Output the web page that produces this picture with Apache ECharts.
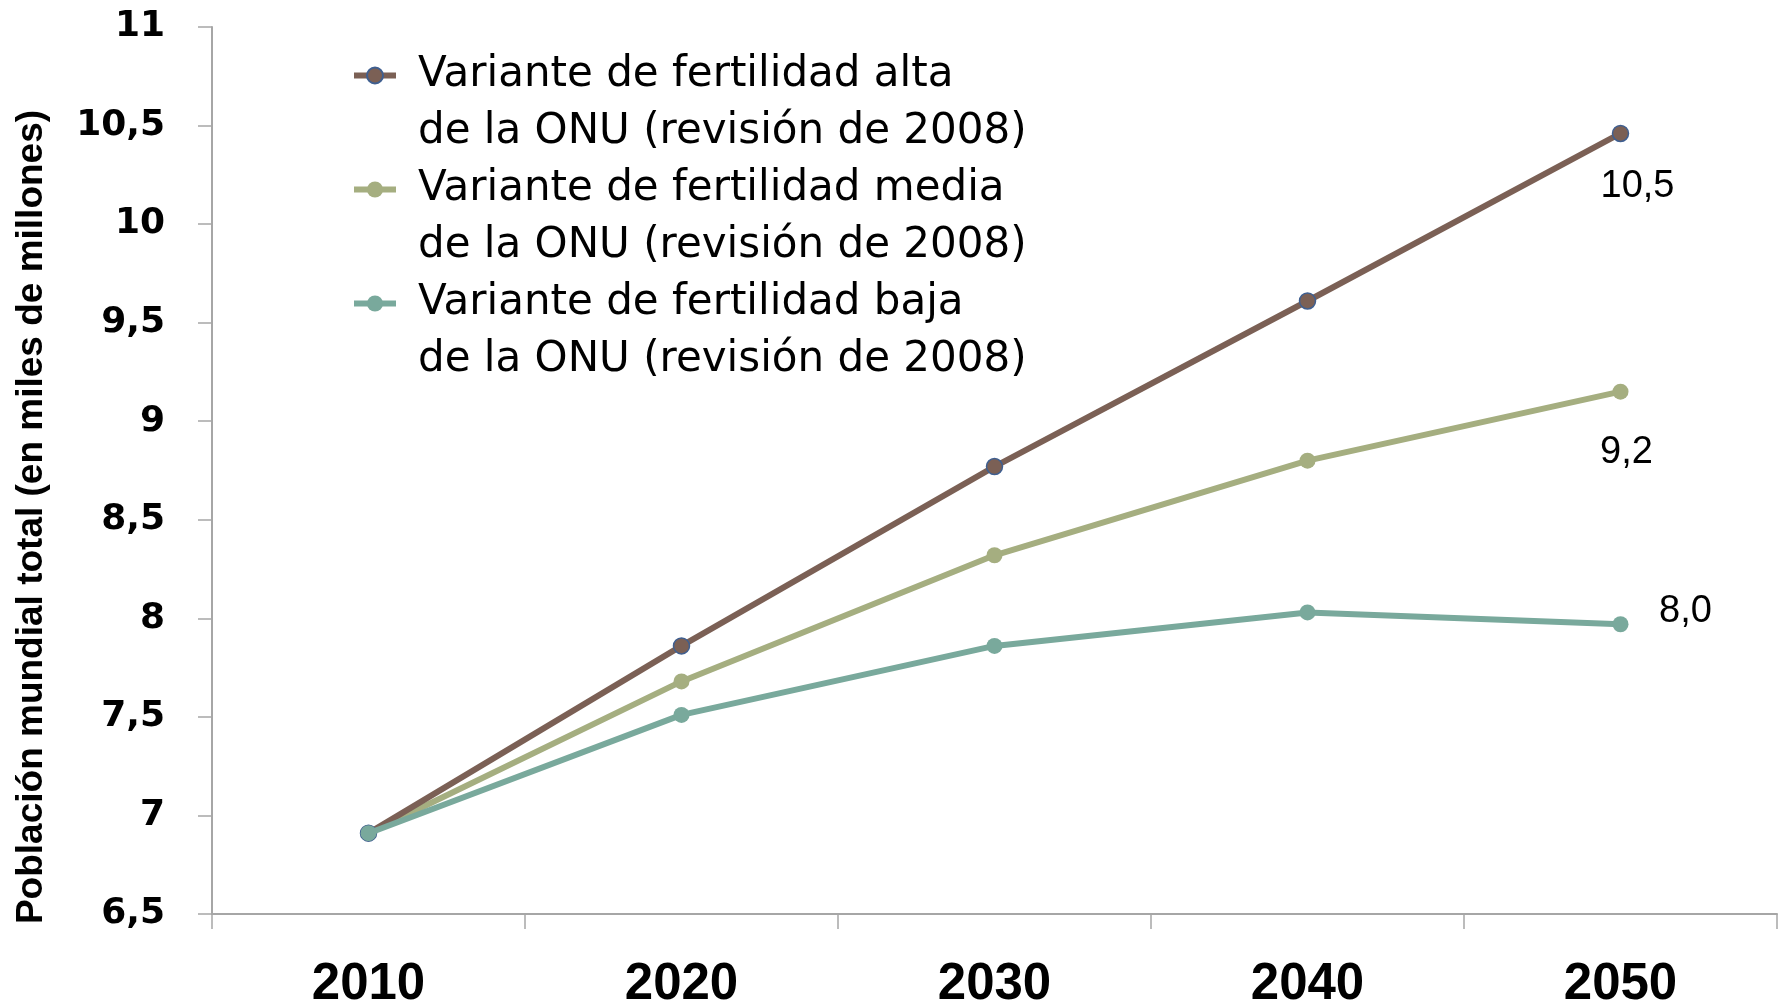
<!DOCTYPE html>
<html>
<head>
<meta charset="utf-8">
<script src="https://cdn.jsdelivr.net/npm/echarts@6/dist/echarts.min.js"></script>
<style>
html,body{margin:0;padding:0;background:#fff;}
#chart{width:1787px;height:1007px;}
</style>
</head>
<body>
<div id="chart"></div>
<script>
const years = ['2010', '2020', '2030', '2040', '2050'];
const highVariant = [6.91, 7.86, 8.77, 9.61, 10.46];
const mediumVariant = [6.91, 7.68, 8.32, 8.80, 9.15];
const lowVariant = [6.91, 7.51, 7.86, 8.03, 7.97];
const seriesNames = [
  'Variante de fertilidad alta\nde la ONU (revisión de 2008)',
  'Variante de fertilidad media\nde la ONU (revisión de 2008)',
  'Variante de fertilidad baja\nde la ONU (revisión de 2008)'
];
const endLabels = ['10,5', '9,2', '8,0'];
const yAxisTitle = 'Población mundial total (en miles de millones)';

const colors = ['#7b6055', '#a5ae80', '#79a99c'];
const labelOffsets = [[17, 53], [6, 61], [65, -13]];

function withEndLabel(arr, idx) {
  return arr.map((v, i) => i === arr.length - 1 ? {
    value: v,
    label: {
      show: true,
      position: 'inside',
      offset: labelOffsets[idx],
      formatter: endLabels[idx],
      color: '#000',
      fontFamily: 'Liberation Sans, Arial, sans-serif',
      fontSize: 38
    }
  } : v);
}

const chart = echarts.init(document.getElementById('chart'));
const LH = 57;
chart.setOption({
  backgroundColor: '#fff',
  animation: false,
  color: colors,
  grid: { left: 212, right: 10, top: 27, bottom: 93, containLabel: false, outerBoundsMode: 'none' },
  legend: {
    orient: 'vertical',
    left: 346,
    top: -15,
    itemWidth: 42,
    itemHeight: 20,
    itemGap: -LH,
    selectedMode: false,
    data: seriesNames,
    formatter: name => '\n' + name,
    lineStyle: { width: 6 },
    textStyle: {
      fontFamily: 'DejaVu Sans, sans-serif',
      fontSize: 42,
      color: '#000',
      lineHeight: LH,
      padding: [0, 0, 0, 17]
    }
  },
  graphic: [{
    type: 'text',
    x: 32,
    y: 517,
    rotation: Math.PI / 2,
    style: {
      text: yAxisTitle,
      fontFamily: 'Liberation Sans Narrow, Arial Narrow, Liberation Sans, sans-serif',
      fontWeight: 'bold',
      fontSize: 37,
      fill: '#000',
      align: 'center',
      verticalAlign: 'middle'
    }
  }],
  xAxis: {
    type: 'category',
    data: years,
    boundaryGap: true,
    axisLine: { lineStyle: { color: '#a6a6a6', width: 2 } },
    axisTick: { show: true, length: 15, lineStyle: { color: '#a6a6a6', width: 1.5 } },
    axisLabel: {
      margin: 45,
      fontFamily: 'Liberation Sans Narrow, Arial Narrow, Liberation Sans, sans-serif',
      fontWeight: 'bold',
      fontSize: 51,
      color: '#000'
    },
    splitLine: { show: false }
  },
  yAxis: {
    type: 'value',
    min: 6.5,
    max: 11,
    interval: 0.5,
    axisLine: { show: true, lineStyle: { color: '#a6a6a6', width: 2 } },
    axisTick: { show: true, length: 14, lineStyle: { color: '#a6a6a6', width: 1.5 } },
    axisLabel: {
      margin: 47,
      fontFamily: 'DejaVu Sans, sans-serif',
      fontWeight: 'bold',
      fontSize: 36,
      color: '#000',
      formatter: v => String(v).replace('.', ',')
    },
    splitLine: { show: false }
  },
  series: [
    {
      name: seriesNames[0], type: 'line', data: withEndLabel(highVariant, 0),
      symbol: 'circle', symbolSize: 16,
      lineStyle: { width: 6, color: colors[0] },
      itemStyle: { color: colors[0], borderColor: '#3f5f90', borderWidth: 1.5 },
      z: 3
    },
    {
      name: seriesNames[1], type: 'line', data: withEndLabel(mediumVariant, 1),
      symbol: 'circle', symbolSize: 16,
      lineStyle: { width: 6, color: colors[1] },
      itemStyle: { color: colors[1] },
      z: 2
    },
    {
      name: seriesNames[2], type: 'line', data: withEndLabel(lowVariant, 2),
      symbol: 'circle', symbolSize: 16,
      lineStyle: { width: 6, color: colors[2] },
      itemStyle: { color: colors[2] },
      z: 4
    }
  ]
});
</script>
</body>
</html>
